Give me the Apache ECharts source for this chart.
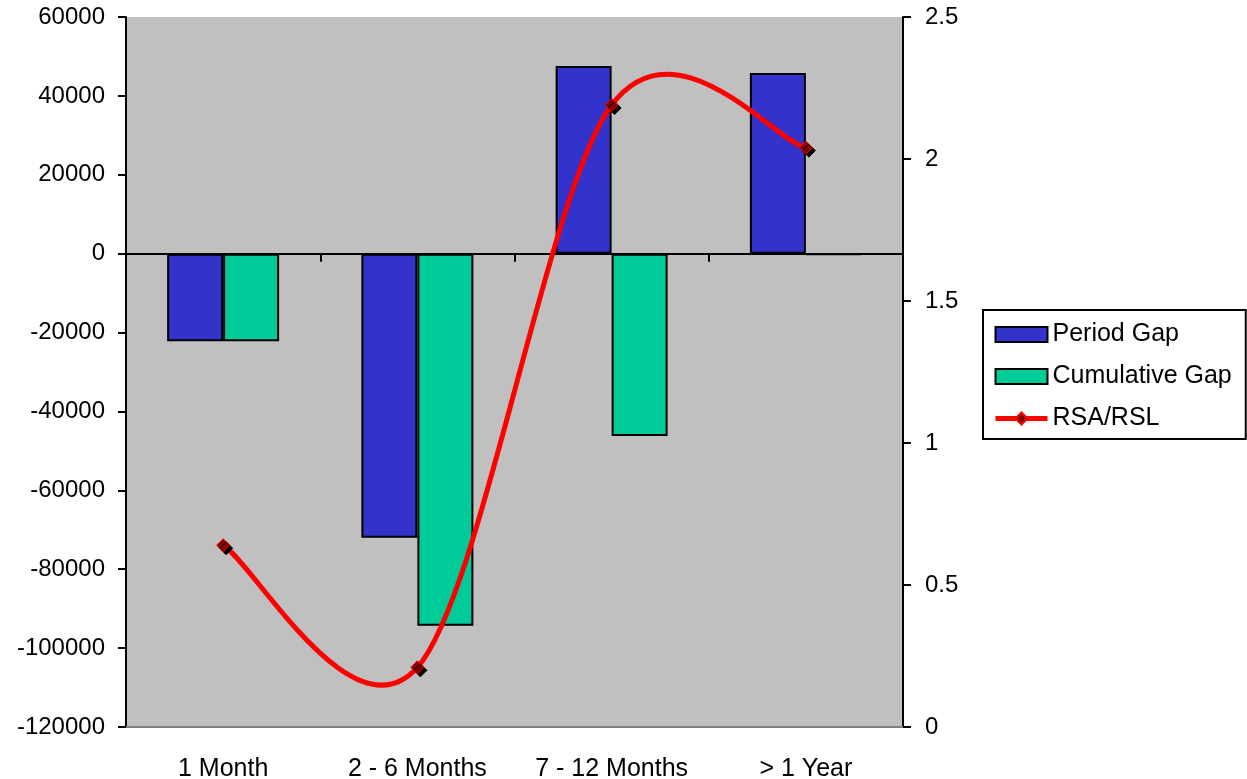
<!DOCTYPE html>
<html>
<head>
<meta charset="utf-8">
<script src="https://cdn.jsdelivr.net/npm/echarts@6/dist/echarts.min.js"></script>
<style>
html, body { margin: 0; padding: 0; background: #fff; }
#gapChart { width: 1247px; height: 779px; }
</style>
</head>
<body>
<div id="gapChart"></div>
<script>
// data
var categories = ['1 Month', '2 - 6 Months', '7 - 12 Months', '> 1 Year'];
var periodGap = [-22200, -72000, 47600, 45800];
var cumulativeGap = [-22200, -94300, -46200, -300];
var rsaRsl = [0.64, 0.21, 2.19, 2.04];

var font = 'Liberation Sans';
var gapChart = echarts.init(document.getElementById('gapChart'));

// excel style smoothed line: one bezier segment per point, to the next one
function renderCurve(params, api) {
    var i = params.dataIndex;
    if (i >= rsaRsl.length - 1) return null;
    var pt = function (k) {
        k = Math.max(0, Math.min(rsaRsl.length - 1, k));
        return api.coord([k, rsaRsl[k]]);
    };
    var p0 = pt(i - 1), p1 = pt(i), p2 = pt(i + 1), p3 = pt(i + 2);
    return {
        type: 'bezierCurve',
        shape: {
            x1: p1[0], y1: p1[1],
            x2: p2[0], y2: p2[1],
            cpx1: p1[0] + (p2[0] - p0[0]) / 6, cpy1: p1[1] + (p2[1] - p0[1]) / 6,
            cpx2: p2[0] - (p3[0] - p1[0]) / 6, cpy2: p2[1] - (p3[1] - p1[1]) / 6
        },
        style: { stroke: '#FF0000', lineWidth: 5, fill: null, lineCap: 'round' }
    };
}

var option = {
    animation: false,
    textStyle: { fontFamily: font },
    grid: {
        left: 126, right: 344, top: 17, bottom: 52,
        outerBoundsMode: 'none',
        show: true,
        backgroundColor: '#C0C0C0',
        borderWidth: 0
    },
    legend: {
        orient: 'vertical',
        left: 983, top: 310,
        padding: [12, 14, 8, 10],
        itemGap: 17,
        itemWidth: 52,
        itemHeight: 15,
        backgroundColor: '#fff',
        borderColor: '#000',
        borderWidth: 2,
        borderRadius: 0,
        textStyle: { fontSize: 25, color: '#000', fontFamily: font },
        data: [
            { name: 'Period Gap', icon: 'rect' },
            { name: 'Cumulative Gap', icon: 'rect' },
            { name: 'RSA/RSL', lineStyle: { color: '#FF0000', width: 5, opacity: 1 } }
        ]
    },
    xAxis: [{
        type: 'category',
        data: categories,
        position: 'bottom',
        axisLine: { onZero: false, lineStyle: { color: '#808080', width: 2 } },
        axisTick: { show: false },
        axisLabel: { interval: 0, fontSize: 25, color: '#000', margin: 30, fontFamily: font },
        splitLine: { show: false }
    }, {
        type: 'category',
        data: categories,
        position: 'bottom',
        axisLine: { onZero: true, onZeroAxisIndex: 0, lineStyle: { color: '#000', width: 2 } },
        axisTick: { show: true, interval: 0, length: 8, lineStyle: { color: '#000', width: 2 } },
        axisLabel: { show: false },
        splitLine: { show: false }
    }],
    yAxis: [{
        type: 'value',
        min: -120000, max: 60000, interval: 20000,
        axisLine: { show: true, lineStyle: { color: '#000', width: 2 } },
        axisTick: { show: true, length: 8, lineStyle: { color: '#000', width: 2 } },
        axisLabel: {
            fontSize: 24, color: '#000', margin: 21, fontFamily: font,
            formatter: function (v) { return String(v); }
        },
        splitLine: { show: false }
    }, {
        type: 'value',
        min: 0, max: 2.5, interval: 0.5,
        position: 'right',
        axisLine: { show: true, lineStyle: { color: '#000', width: 2 } },
        axisTick: { show: true, length: 8, lineStyle: { color: '#000', width: 2 } },
        axisLabel: { fontSize: 24, color: '#000', margin: 22, fontFamily: font },
        splitLine: { show: false }
    }],
    series: [{
        name: 'Period Gap',
        type: 'bar',
        xAxisIndex: 0, yAxisIndex: 0,
        barWidth: 56,
        barGap: '0%',
        itemStyle: { color: '#3333CC', borderColor: '#000', borderWidth: 2 },
        data: periodGap
    }, {
        name: 'Cumulative Gap',
        type: 'bar',
        xAxisIndex: 0, yAxisIndex: 0,
        barWidth: 56,
        barGap: '0%',
        itemStyle: { color: '#00CC99', borderColor: '#000', borderWidth: 2 },
        data: cumulativeGap
    }, {
        name: 'RSA/RSL curve',
        type: 'custom',
        xAxisIndex: 0, yAxisIndex: 1,
        z: 4,
        silent: true,
        renderItem: renderCurve,
        data: rsaRsl.map(function (v, i) { return [i, v]; })
    }, {
        name: 'RSA/RSL',
        type: 'line',
        xAxisIndex: 0, yAxisIndex: 1,
        z: 5,
        symbol: 'diamond',
        symbolSize: 13,
        lineStyle: { color: '#FF0000', width: 0, opacity: 0 },
        itemStyle: {
            color: '#800000', borderColor: '#FF0000', borderWidth: 1,
            shadowColor: '#000', shadowOffsetX: 3, shadowOffsetY: 3, shadowBlur: 0
        },
        data: rsaRsl
    }]
};

gapChart.setOption(option);
</script>
</body>
</html>
